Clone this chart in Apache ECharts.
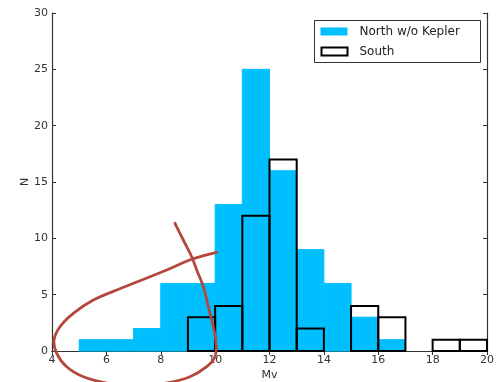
<!DOCTYPE html>
<html>
<head>
<meta charset="utf-8">
<script src="https://cdn.jsdelivr.net/npm/echarts@6/dist/echarts.min.js"></script>
<style>
  html, body { margin: 0; padding: 0; background: #fff; }
  #chart { width: 498px; height: 382px; }
</style>
</head>
<body>
<div id="chart"></div>
<script>
// Histogram bins of width 1 in Mv, left edges
const binLeft = [4, 5, 6, 7, 8, 9, 10, 11, 12, 13, 14, 15, 16, 17, 18, 19];
const northCounts = [0, 1, 1, 2, 6, 6, 13, 25, 16, 9, 6, 3, 1, 0, 0, 0];
const southCounts = [0, 0, 0, 0, 0, 3, 4, 12, 17, 2, 0, 4, 3, 0, 1, 1];
const binWidth = 1;

const seriesNames = ['North w/o Kepler', 'South'];
const xTicks = [4, 6, 8, 10, 12, 14, 16, 18, 20];
const yTicks = [0, 5, 10, 15, 20, 25, 30];

const FONT = 'DejaVu Sans';
const BLUE = '#00bfff';
const INK = '#333';

function histData(counts) {
  return binLeft.map((x, i) => [x, x + binWidth, counts[i]]).filter(d => d[2] > 0);
}

function barRender(filled) {
  return function (params, api) {
    const p0 = api.coord([api.value(0), api.value(2)]);
    const p1 = api.coord([api.value(1), 0]);
    const shape = { x: p0[0], y: p0[1], width: p1[0] - p0[0], height: p1[1] - p0[1] };
    return {
      type: 'rect',
      shape: shape,
      style: filled
        ? { fill: BLUE, stroke: BLUE, lineWidth: 1 }
        : { fill: 'none', stroke: '#000', lineWidth: 2 }
    };
  };
}

const chart = echarts.init(document.getElementById('chart'), null, { renderer: 'canvas' });

const tickStyle = { show: true, inside: true, length: 4, lineStyle: { color: INK, width: 1 } };
const lineStyle = { show: true, lineStyle: { color: INK, width: 1.2 } };

// hand-drawn red loop around the faint end of the distribution
const loop = [
  [216.7, 252.3], [191.7, 259.3], [166.7, 270], [140, 280.7], [116.7, 290],
  [93.3, 300], [73.3, 313.3], [60, 326.7], [54, 340], [56.7, 353.3],
  [66.7, 366.7], [83.3, 376.7], [106.7, 383], [136, 387], [166.7, 383],
  [190, 376.7], [206.7, 366.7], [215, 356.7], [216, 343.3], [213.3, 326.7],
  [208.3, 306.7], [203.3, 286.7], [196.7, 270], [191.7, 256.7], [183.3, 240],
  [175, 223.3]
];

chart.setOption({
  animation: false,
  backgroundColor: '#fff',
  grid: { left: 52, right: 11, top: 13, bottom: 31, containLabel: false, outerBoundsMode: 'none' },
  xAxis: [
    {
      type: 'value', min: 4, max: 20, interval: 2,
      name: 'Mv', nameLocation: 'middle', nameGap: 19, nameMoveOverlap: false,
      nameTextStyle: { fontFamily: FONT, fontSize: 11, color: INK },
      axisLine: lineStyle, axisTick: tickStyle, splitLine: { show: false },
      axisLabel: { fontFamily: FONT, fontSize: 11, color: INK, margin: 4,
        formatter: v => xTicks.includes(v) ? String(v) : '' }
    },
    {
      type: 'value', min: 4, max: 20, interval: 2, position: 'top',
      axisLine: lineStyle, axisTick: tickStyle, splitLine: { show: false },
      axisLabel: { show: false }
    }
  ],
  yAxis: [
    {
      type: 'value', min: 0, max: 30, interval: 5,
      name: 'N', nameLocation: 'middle', nameGap: 21, nameRotate: 90, nameMoveOverlap: false,
      nameTextStyle: { fontFamily: FONT, fontSize: 11, color: INK },
      axisLine: lineStyle, axisTick: tickStyle, splitLine: { show: false },
      axisLabel: { fontFamily: FONT, fontSize: 11, color: INK, margin: 4,
        formatter: v => yTicks.includes(v) ? String(v) : '' }
    },
    {
      type: 'value', min: 0, max: 30, interval: 5, position: 'right',
      axisLine: lineStyle, axisTick: tickStyle, splitLine: { show: false },
      axisLabel: { show: false }
    }
  ],
  legend: { show: false },
  series: [
    {
      name: seriesNames[0], type: 'custom', xAxisIndex: 0, yAxisIndex: 0,
      renderItem: barRender(true), data: histData(northCounts), z: 2
    },
    {
      name: seriesNames[1], type: 'custom', xAxisIndex: 0, yAxisIndex: 0,
      renderItem: barRender(false), data: histData(southCounts), z: 3
    }
  ],
  graphic: [
    {
      type: 'group', left: 314, top: 20, z: 50,
      children: [
        { type: 'rect', shape: { x: 0, y: 0, width: 166, height: 42 },
          style: { fill: '#fff', stroke: INK, lineWidth: 1 } },
        { type: 'rect', shape: { x: 6, y: 7, width: 27, height: 8 },
          style: { fill: BLUE } },
        { type: 'text', x: 45, y: 11.5,
          style: { text: seriesNames[0], fontFamily: FONT, fontSize: 12, fill: '#222', verticalAlign: 'middle' } },
        { type: 'rect', shape: { x: 7, y: 27, width: 26, height: 8 },
          style: { fill: 'none', stroke: '#000', lineWidth: 2 } },
        { type: 'text', x: 45, y: 31.5,
          style: { text: seriesNames[1], fontFamily: FONT, fontSize: 12, fill: '#222', verticalAlign: 'middle' } }
      ]
    },
    {
      type: 'polyline', z: 100,
      shape: { points: loop, smooth: 0.4 },
      style: { stroke: '#b5473c', lineWidth: 2.8, fill: 'none', lineCap: 'round', lineJoin: 'round' }
    }
  ]
});
</script>
</body>
</html>
